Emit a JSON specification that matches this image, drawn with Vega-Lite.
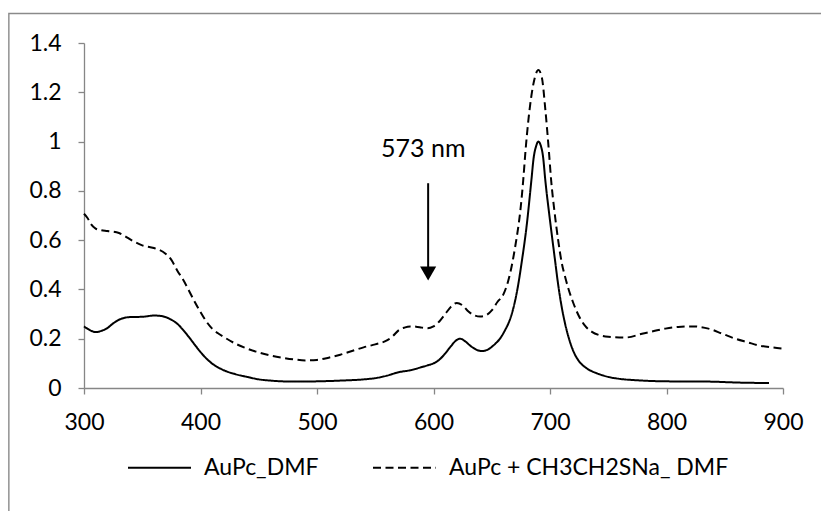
{
  "$schema": "https://vega.github.io/schema/vega-lite/v6.json",
  "width": 699,
  "height": 345,
  "autosize": {"type": "none"},
  "padding": {"left": 84, "top": 43, "right": 38, "bottom": 123},
  "background": "white",
  "config": {
    "font": "Lato",
    "view": {"stroke": null},
    "axis": {
      "grid": false,
      "title": null,
      "domainColor": "#868686",
      "domainWidth": 1.3,
      "tickColor": "#868686",
      "tickWidth": 1.3,
      "tickSize": 6,
      "labelFont": "Lato",
      "labelFontSize": 23,
      "labelColor": "#000000",
      "labelFlush": false,
      "labelOverlap": false
    },
    "legend": {
      "labelFont": "Lato",
      "labelFontSize": 23,
      "labelColor": "#000000",
      "labelLimit": 600
    }
  },
  "datasets": {
    "curves": [
      {"nm": 300, "abs": 0.25, "series": "AuPc_DMF"},
      {"nm": 305, "abs": 0.235, "series": "AuPc_DMF"},
      {"nm": 310, "abs": 0.227, "series": "AuPc_DMF"},
      {"nm": 315, "abs": 0.232, "series": "AuPc_DMF"},
      {"nm": 320, "abs": 0.243, "series": "AuPc_DMF"},
      {"nm": 325, "abs": 0.262, "series": "AuPc_DMF"},
      {"nm": 330, "abs": 0.277, "series": "AuPc_DMF"},
      {"nm": 335, "abs": 0.285, "series": "AuPc_DMF"},
      {"nm": 340, "abs": 0.288, "series": "AuPc_DMF"},
      {"nm": 350, "abs": 0.289, "series": "AuPc_DMF"},
      {"nm": 360, "abs": 0.294, "series": "AuPc_DMF"},
      {"nm": 365, "abs": 0.293, "series": "AuPc_DMF"},
      {"nm": 370, "abs": 0.288, "series": "AuPc_DMF"},
      {"nm": 375, "abs": 0.277, "series": "AuPc_DMF"},
      {"nm": 380, "abs": 0.261, "series": "AuPc_DMF"},
      {"nm": 385, "abs": 0.236, "series": "AuPc_DMF"},
      {"nm": 390, "abs": 0.207, "series": "AuPc_DMF"},
      {"nm": 395, "abs": 0.176, "series": "AuPc_DMF"},
      {"nm": 400, "abs": 0.146, "series": "AuPc_DMF"},
      {"nm": 405, "abs": 0.12, "series": "AuPc_DMF"},
      {"nm": 410, "abs": 0.099, "series": "AuPc_DMF"},
      {"nm": 415, "abs": 0.084, "series": "AuPc_DMF"},
      {"nm": 420, "abs": 0.072, "series": "AuPc_DMF"},
      {"nm": 430, "abs": 0.056, "series": "AuPc_DMF"},
      {"nm": 440, "abs": 0.045, "series": "AuPc_DMF"},
      {"nm": 450, "abs": 0.035, "series": "AuPc_DMF"},
      {"nm": 460, "abs": 0.03, "series": "AuPc_DMF"},
      {"nm": 470, "abs": 0.027, "series": "AuPc_DMF"},
      {"nm": 480, "abs": 0.026, "series": "AuPc_DMF"},
      {"nm": 500, "abs": 0.027, "series": "AuPc_DMF"},
      {"nm": 520, "abs": 0.03, "series": "AuPc_DMF"},
      {"nm": 540, "abs": 0.035, "series": "AuPc_DMF"},
      {"nm": 550, "abs": 0.04, "series": "AuPc_DMF"},
      {"nm": 560, "abs": 0.05, "series": "AuPc_DMF"},
      {"nm": 570, "abs": 0.064, "series": "AuPc_DMF"},
      {"nm": 580, "abs": 0.072, "series": "AuPc_DMF"},
      {"nm": 590, "abs": 0.085, "series": "AuPc_DMF"},
      {"nm": 595, "abs": 0.092, "series": "AuPc_DMF"},
      {"nm": 600, "abs": 0.1, "series": "AuPc_DMF"},
      {"nm": 605, "abs": 0.115, "series": "AuPc_DMF"},
      {"nm": 610, "abs": 0.14, "series": "AuPc_DMF"},
      {"nm": 615, "abs": 0.17, "series": "AuPc_DMF"},
      {"nm": 620, "abs": 0.195, "series": "AuPc_DMF"},
      {"nm": 623, "abs": 0.2, "series": "AuPc_DMF"},
      {"nm": 627, "abs": 0.19, "series": "AuPc_DMF"},
      {"nm": 632, "abs": 0.17, "series": "AuPc_DMF"},
      {"nm": 637, "abs": 0.155, "series": "AuPc_DMF"},
      {"nm": 642, "abs": 0.15, "series": "AuPc_DMF"},
      {"nm": 647, "abs": 0.157, "series": "AuPc_DMF"},
      {"nm": 652, "abs": 0.175, "series": "AuPc_DMF"},
      {"nm": 657, "abs": 0.2, "series": "AuPc_DMF"},
      {"nm": 662, "abs": 0.24, "series": "AuPc_DMF"},
      {"nm": 665, "abs": 0.27, "series": "AuPc_DMF"},
      {"nm": 668, "abs": 0.314, "series": "AuPc_DMF"},
      {"nm": 672, "abs": 0.4, "series": "AuPc_DMF"},
      {"nm": 676, "abs": 0.52, "series": "AuPc_DMF"},
      {"nm": 680, "abs": 0.66, "series": "AuPc_DMF"},
      {"nm": 684, "abs": 0.842, "series": "AuPc_DMF"},
      {"nm": 686, "abs": 0.935, "series": "AuPc_DMF"},
      {"nm": 688, "abs": 0.98, "series": "AuPc_DMF"},
      {"nm": 690, "abs": 1.0, "series": "AuPc_DMF"},
      {"nm": 692, "abs": 0.985, "series": "AuPc_DMF"},
      {"nm": 694, "abs": 0.94, "series": "AuPc_DMF"},
      {"nm": 696, "abs": 0.842, "series": "AuPc_DMF"},
      {"nm": 700, "abs": 0.68, "series": "AuPc_DMF"},
      {"nm": 704, "abs": 0.53, "series": "AuPc_DMF"},
      {"nm": 707, "abs": 0.42, "series": "AuPc_DMF"},
      {"nm": 710, "abs": 0.33, "series": "AuPc_DMF"},
      {"nm": 713, "abs": 0.26, "series": "AuPc_DMF"},
      {"nm": 716, "abs": 0.205, "series": "AuPc_DMF"},
      {"nm": 720, "abs": 0.15, "series": "AuPc_DMF"},
      {"nm": 725, "abs": 0.108, "series": "AuPc_DMF"},
      {"nm": 730, "abs": 0.085, "series": "AuPc_DMF"},
      {"nm": 735, "abs": 0.07, "series": "AuPc_DMF"},
      {"nm": 740, "abs": 0.06, "series": "AuPc_DMF"},
      {"nm": 750, "abs": 0.045, "series": "AuPc_DMF"},
      {"nm": 760, "abs": 0.037, "series": "AuPc_DMF"},
      {"nm": 776, "abs": 0.031, "series": "AuPc_DMF"},
      {"nm": 800, "abs": 0.027, "series": "AuPc_DMF"},
      {"nm": 836, "abs": 0.026, "series": "AuPc_DMF"},
      {"nm": 862, "abs": 0.022, "series": "AuPc_DMF"},
      {"nm": 888, "abs": 0.02, "series": "AuPc_DMF"},

      {"nm": 300, "abs": 0.707, "series": "AuPc + CH3CH2SNa_ DMF"},
      {"nm": 303, "abs": 0.69, "series": "AuPc + CH3CH2SNa_ DMF"},
      {"nm": 306, "abs": 0.665, "series": "AuPc + CH3CH2SNa_ DMF"},
      {"nm": 310, "abs": 0.647, "series": "AuPc + CH3CH2SNa_ DMF"},
      {"nm": 315, "abs": 0.64, "series": "AuPc + CH3CH2SNa_ DMF"},
      {"nm": 320, "abs": 0.637, "series": "AuPc + CH3CH2SNa_ DMF"},
      {"nm": 330, "abs": 0.629, "series": "AuPc + CH3CH2SNa_ DMF"},
      {"nm": 335, "abs": 0.617, "series": "AuPc + CH3CH2SNa_ DMF"},
      {"nm": 340, "abs": 0.602, "series": "AuPc + CH3CH2SNa_ DMF"},
      {"nm": 350, "abs": 0.579, "series": "AuPc + CH3CH2SNa_ DMF"},
      {"nm": 360, "abs": 0.568, "series": "AuPc + CH3CH2SNa_ DMF"},
      {"nm": 370, "abs": 0.545, "series": "AuPc + CH3CH2SNa_ DMF"},
      {"nm": 375, "abs": 0.52, "series": "AuPc + CH3CH2SNa_ DMF"},
      {"nm": 380, "abs": 0.477, "series": "AuPc + CH3CH2SNa_ DMF"},
      {"nm": 385, "abs": 0.44, "series": "AuPc + CH3CH2SNa_ DMF"},
      {"nm": 390, "abs": 0.396, "series": "AuPc + CH3CH2SNa_ DMF"},
      {"nm": 395, "abs": 0.35, "series": "AuPc + CH3CH2SNa_ DMF"},
      {"nm": 400, "abs": 0.308, "series": "AuPc + CH3CH2SNa_ DMF"},
      {"nm": 405, "abs": 0.27, "series": "AuPc + CH3CH2SNa_ DMF"},
      {"nm": 410, "abs": 0.241, "series": "AuPc + CH3CH2SNa_ DMF"},
      {"nm": 415, "abs": 0.222, "series": "AuPc + CH3CH2SNa_ DMF"},
      {"nm": 420, "abs": 0.207, "series": "AuPc + CH3CH2SNa_ DMF"},
      {"nm": 430, "abs": 0.18, "series": "AuPc + CH3CH2SNa_ DMF"},
      {"nm": 440, "abs": 0.16, "series": "AuPc + CH3CH2SNa_ DMF"},
      {"nm": 450, "abs": 0.144, "series": "AuPc + CH3CH2SNa_ DMF"},
      {"nm": 460, "abs": 0.132, "series": "AuPc + CH3CH2SNa_ DMF"},
      {"nm": 470, "abs": 0.123, "series": "AuPc + CH3CH2SNa_ DMF"},
      {"nm": 480, "abs": 0.116, "series": "AuPc + CH3CH2SNa_ DMF"},
      {"nm": 490, "abs": 0.112, "series": "AuPc + CH3CH2SNa_ DMF"},
      {"nm": 500, "abs": 0.114, "series": "AuPc + CH3CH2SNa_ DMF"},
      {"nm": 510, "abs": 0.123, "series": "AuPc + CH3CH2SNa_ DMF"},
      {"nm": 520, "abs": 0.135, "series": "AuPc + CH3CH2SNa_ DMF"},
      {"nm": 530, "abs": 0.15, "series": "AuPc + CH3CH2SNa_ DMF"},
      {"nm": 540, "abs": 0.165, "series": "AuPc + CH3CH2SNa_ DMF"},
      {"nm": 550, "abs": 0.177, "series": "AuPc + CH3CH2SNa_ DMF"},
      {"nm": 560, "abs": 0.193, "series": "AuPc + CH3CH2SNa_ DMF"},
      {"nm": 565, "abs": 0.21, "series": "AuPc + CH3CH2SNa_ DMF"},
      {"nm": 570, "abs": 0.234, "series": "AuPc + CH3CH2SNa_ DMF"},
      {"nm": 575, "abs": 0.245, "series": "AuPc + CH3CH2SNa_ DMF"},
      {"nm": 580, "abs": 0.25, "series": "AuPc + CH3CH2SNa_ DMF"},
      {"nm": 585, "abs": 0.249, "series": "AuPc + CH3CH2SNa_ DMF"},
      {"nm": 590, "abs": 0.245, "series": "AuPc + CH3CH2SNa_ DMF"},
      {"nm": 595, "abs": 0.242, "series": "AuPc + CH3CH2SNa_ DMF"},
      {"nm": 600, "abs": 0.25, "series": "AuPc + CH3CH2SNa_ DMF"},
      {"nm": 605, "abs": 0.27, "series": "AuPc + CH3CH2SNa_ DMF"},
      {"nm": 610, "abs": 0.3, "series": "AuPc + CH3CH2SNa_ DMF"},
      {"nm": 615, "abs": 0.33, "series": "AuPc + CH3CH2SNa_ DMF"},
      {"nm": 620, "abs": 0.345, "series": "AuPc + CH3CH2SNa_ DMF"},
      {"nm": 625, "abs": 0.335, "series": "AuPc + CH3CH2SNa_ DMF"},
      {"nm": 630, "abs": 0.31, "series": "AuPc + CH3CH2SNa_ DMF"},
      {"nm": 635, "abs": 0.295, "series": "AuPc + CH3CH2SNa_ DMF"},
      {"nm": 640, "abs": 0.29, "series": "AuPc + CH3CH2SNa_ DMF"},
      {"nm": 645, "abs": 0.295, "series": "AuPc + CH3CH2SNa_ DMF"},
      {"nm": 650, "abs": 0.315, "series": "AuPc + CH3CH2SNa_ DMF"},
      {"nm": 655, "abs": 0.35, "series": "AuPc + CH3CH2SNa_ DMF"},
      {"nm": 660, "abs": 0.38, "series": "AuPc + CH3CH2SNa_ DMF"},
      {"nm": 665, "abs": 0.45, "series": "AuPc + CH3CH2SNa_ DMF"},
      {"nm": 670, "abs": 0.57, "series": "AuPc + CH3CH2SNa_ DMF"},
      {"nm": 675, "abs": 0.74, "series": "AuPc + CH3CH2SNa_ DMF"},
      {"nm": 677, "abs": 0.842, "series": "AuPc + CH3CH2SNa_ DMF"},
      {"nm": 679, "abs": 0.964, "series": "AuPc + CH3CH2SNa_ DMF"},
      {"nm": 683, "abs": 1.15, "series": "AuPc + CH3CH2SNa_ DMF"},
      {"nm": 687, "abs": 1.26, "series": "AuPc + CH3CH2SNa_ DMF"},
      {"nm": 690, "abs": 1.29, "series": "AuPc + CH3CH2SNa_ DMF"},
      {"nm": 693, "abs": 1.26, "series": "AuPc + CH3CH2SNa_ DMF"},
      {"nm": 696, "abs": 1.13, "series": "AuPc + CH3CH2SNa_ DMF"},
      {"nm": 699, "abs": 0.964, "series": "AuPc + CH3CH2SNa_ DMF"},
      {"nm": 701, "abs": 0.842, "series": "AuPc + CH3CH2SNa_ DMF"},
      {"nm": 704, "abs": 0.71, "series": "AuPc + CH3CH2SNa_ DMF"},
      {"nm": 707, "abs": 0.6, "series": "AuPc + CH3CH2SNa_ DMF"},
      {"nm": 710, "abs": 0.51, "series": "AuPc + CH3CH2SNa_ DMF"},
      {"nm": 713, "abs": 0.45, "series": "AuPc + CH3CH2SNa_ DMF"},
      {"nm": 716, "abs": 0.4, "series": "AuPc + CH3CH2SNa_ DMF"},
      {"nm": 720, "abs": 0.345, "series": "AuPc + CH3CH2SNa_ DMF"},
      {"nm": 725, "abs": 0.29, "series": "AuPc + CH3CH2SNa_ DMF"},
      {"nm": 730, "abs": 0.253, "series": "AuPc + CH3CH2SNa_ DMF"},
      {"nm": 736, "abs": 0.228, "series": "AuPc + CH3CH2SNa_ DMF"},
      {"nm": 742, "abs": 0.215, "series": "AuPc + CH3CH2SNa_ DMF"},
      {"nm": 750, "abs": 0.208, "series": "AuPc + CH3CH2SNa_ DMF"},
      {"nm": 765, "abs": 0.205, "series": "AuPc + CH3CH2SNa_ DMF"},
      {"nm": 779, "abs": 0.22, "series": "AuPc + CH3CH2SNa_ DMF"},
      {"nm": 790, "abs": 0.232, "series": "AuPc + CH3CH2SNa_ DMF"},
      {"nm": 799, "abs": 0.241, "series": "AuPc + CH3CH2SNa_ DMF"},
      {"nm": 810, "abs": 0.248, "series": "AuPc + CH3CH2SNa_ DMF"},
      {"nm": 822, "abs": 0.25, "series": "AuPc + CH3CH2SNa_ DMF"},
      {"nm": 836, "abs": 0.241, "series": "AuPc + CH3CH2SNa_ DMF"},
      {"nm": 848, "abs": 0.22, "series": "AuPc + CH3CH2SNa_ DMF"},
      {"nm": 859, "abs": 0.2, "series": "AuPc + CH3CH2SNa_ DMF"},
      {"nm": 870, "abs": 0.185, "series": "AuPc + CH3CH2SNa_ DMF"},
      {"nm": 879, "abs": 0.173, "series": "AuPc + CH3CH2SNa_ DMF"},
      {"nm": 890, "abs": 0.165, "series": "AuPc + CH3CH2SNa_ DMF"},
      {"nm": 900, "abs": 0.16, "series": "AuPc + CH3CH2SNa_ DMF"}
    ],
    "frame": [{"x1": 235.5, "x2": 1100, "y1": 1.52, "y2": -1.0}],
    "arrow": [{"nm": 595.4, "top": 0.831, "bottom": 0.49, "tip": 0.465}],
    "label": [{"nm": 591.2, "abs": 0.936, "text": "573 nm"}]
  },
  "layer": [
    {
      "data": {"name": "frame"},
      "mark": {"type": "rect", "fill": null, "stroke": "#8a8a8a", "strokeWidth": 1.4, "clip": false},
      "encoding": {
        "x": {"field": "x1", "type": "quantitative", "scale": {"domain": [300, 900], "nice": false, "zero": false}},
        "x2": {"field": "x2"},
        "y": {"field": "y1", "type": "quantitative", "scale": {"domain": [0, 1.4], "nice": false, "zero": false}},
        "y2": {"field": "y2"}
      }
    },
    {
      "data": {"name": "curves"},
      "mark": {"type": "line", "color": "#000000", "strokeWidth": 2, "interpolate": "monotone"},
      "encoding": {
        "x": {
          "field": "nm", "type": "quantitative",
          "scale": {"domain": [300, 900], "nice": false, "zero": false},
          "axis": {"values": [300, 400, 500, 600, 700, 800, 900], "labelPadding": 17, "format": "d"}
        },
        "y": {
          "field": "abs", "type": "quantitative",
          "scale": {"domain": [0, 1.4], "nice": false, "zero": false},
          "axis": {"values": [0, 0.2, 0.4, 0.6, 0.8, 1, 1.2, 1.4], "labelPadding": 17, "labelExpr": "toString(round(datum.value*10)/10)"}
        },
        "strokeDash": {
          "field": "series", "type": "nominal",
          "scale": {"domain": ["AuPc_DMF", "AuPc + CH3CH2SNa_ DMF"], "range": [[1, 0], [8, 4.5]]},
          "legend": {
            "title": null,
            "orient": "none",
            "direction": "horizontal",
            "legendX": 43,
            "legendY": 392,
            "padding": 0,
            "symbolType": "stroke",
            "symbolSize": 3969,
            "symbolStrokeWidth": 2,
            "symbolStrokeColor": "#000000",
            "labelOffset": 12,
            "columnPadding": 50
          }
        },
        "order": {"field": "nm", "type": "quantitative"}
      }
    },
    {
      "data": {"name": "arrow"},
      "mark": {"type": "rule", "color": "#000000", "strokeWidth": 2},
      "encoding": {
        "x": {"field": "nm", "type": "quantitative"},
        "y": {"field": "top", "type": "quantitative"},
        "y2": {"field": "bottom"}
      }
    },
    {
      "data": {"name": "arrow"},
      "mark": {"type": "point", "shape": "triangle-down", "filled": true, "color": "#000000", "size": 260, "opacity": 1},
      "encoding": {
        "x": {"field": "nm", "type": "quantitative"},
        "y": {"field": "tip", "type": "quantitative"}
      }
    },
    {
      "data": {"name": "label"},
      "mark": {"type": "text", "fontSize": 25, "font": "Lato", "color": "#000000", "align": "center", "baseline": "alphabetic"},
      "encoding": {
        "x": {"field": "nm", "type": "quantitative"},
        "y": {"field": "abs", "type": "quantitative"},
        "text": {"field": "text"}
      }
    }
  ]
}
